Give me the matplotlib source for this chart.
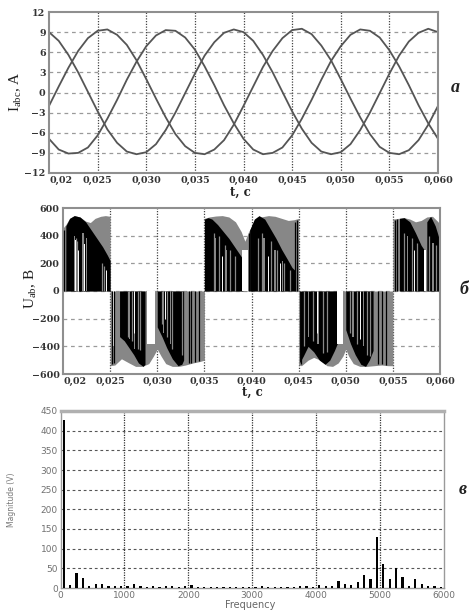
import numpy as np
import matplotlib
matplotlib.use("Agg")
from matplotlib import pyplot as plt
from matplotlib.ticker import FixedLocator, FixedFormatter

plt.rcParams['mathtext.fontset'] = 'custom'
plt.rcParams['mathtext.rm'] = 'Liberation Serif'
plt.rcParams['mathtext.it'] = 'Liberation Serif:italic'

# ---- a) phase currents, read every 1 ms from 0.020 to 0.060 s
cur_t = np.arange(20, 61) / 1000
cur_1 = [-2.0, 0.9, 3.7, 6.2, 8.1, 9.2, 9.4, 8.6, 7.1, 4.8, 2.0, -0.9, -3.7, -6.2, -8.0, -9.0, -9.2, -8.5, -7.1, -4.8,
         -2.0, 0.9, 3.8, 6.2, 8.1, 9.3, 9.5, 8.7, 7.0, 4.8, 2.0, -0.9, -3.7, -6.2, -8.1, -9.0, -9.2, -8.6, -7.1, -4.8, -2.0]
cur_2 = [-6.9, -8.5, -9.1, -9.0, -8.2, -6.4, -3.9, -1.1, 1.9, 4.6, 6.9, 8.5, 9.3, 9.2, 8.2, 6.4, 3.9, 1.1, -1.9, -4.6,
         -6.9, -8.5, -9.2, -9.0, -8.2, -6.4, -3.9, -1.1, 1.9, 4.7, 6.9, 8.6, 9.4, 9.2, 8.2, 6.3, 3.9, 1.1, -1.9, -4.6, -6.9]
cur_3 = [9.0, 7.7, 5.6, 3.0, 0.1, -2.8, -5.5, -7.5, -8.8, -9.2, -8.9, -7.7, -5.6, -3.0, -0.1, 2.8, 5.5, 7.5, 8.9, 9.4,
         9.0, 7.7, 5.6, 3.0, 0.1, -2.8, -5.4, -7.5, -8.8, -9.2, -8.9, -7.7, -5.6, -3.0, -0.1, 2.8, 5.5, 7.6, 8.9, 9.5, 9.0]
cur_ticks = [-12, -9, -6, -3, 0, 3, 6, 9, 12]

time_ticks = [0.020, 0.025, 0.030, 0.035, 0.040, 0.045, 0.050, 0.055, 0.060]
time_labels = ['0,02', '0,025', '0,030', '0,035', '0,040', '0,045', '0,050', '0,055', '0,060']

# ---- б) line voltage: envelope (gray), dense switching (black), stripes
volt_t = [0.0200, 0.0203, 0.0207, 0.0212, 0.0218, 0.0224, 0.0229, 0.0234, 0.0240, 0.0245, 0.0250, 0.0250,
          0.0250, 0.0255, 0.0262, 0.0270, 0.0277, 0.0284, 0.0291, 0.0296, 0.0300, 0.0304, 0.0309, 0.0316, 0.0323,
          0.0330, 0.0338, 0.0345, 0.0350, 0.0350,
          0.0350, 0.0355, 0.0362, 0.0369, 0.0376, 0.0383, 0.0389, 0.0393, 0.0397, 0.0403, 0.0410, 0.0418, 0.0425,
          0.0432, 0.0439, 0.0445, 0.0450, 0.0450,
          0.0450, 0.0453, 0.0460, 0.0466, 0.0473, 0.0480, 0.0486, 0.0492, 0.0497, 0.0500, 0.0503, 0.0508, 0.0515,
          0.0522, 0.0530, 0.0538, 0.0545, 0.0550, 0.0550,
          0.0550, 0.0556, 0.0562, 0.0568, 0.0574, 0.0580, 0.0586, 0.0592, 0.0598, 0.0600]
volt_env = [455, 480, 525, 545, 535, 505, 495, 525, 540, 545, 540, 0,
            -540, -535, -490, -520, -545, -545, -525, -470, -420, -470, -525, -545, -545,
            -535, -520, -510, -500, 0,
            525, 535, 542, 545, 535, 500, 430, 360, 430, 500, 535, 545, 540,
            525, 510, 515, 525, 0,
            -535, -540, -500, -480, -500, -540, -545, -520, -470, -420, -470, -525, -545,
            -545, -540, -535, -540, -540, 0,
            520, 525, 530, 520, 500, 510, 535, 540, 500, 470]

dense_t = [0.0203, 0.0203, 0.0207, 0.0212, 0.0218, 0.0224, 0.0230, 0.0236, 0.0242, 0.0247, 0.0250, 0.0250,
           0.0260, 0.0260, 0.0265, 0.0270, 0.0275, 0.0280, 0.0285, 0.0287, 0.0287,
           0.0300, 0.0300, 0.0305, 0.0310, 0.0316, 0.0322, 0.0326, 0.0328, 0.0328,
           0.0350, 0.0350, 0.0354, 0.0358, 0.0364, 0.0370, 0.0376, 0.0382, 0.0388, 0.0391, 0.0391,
           0.0398, 0.0398, 0.0403, 0.0408, 0.0414, 0.0420, 0.0426, 0.0432, 0.0438, 0.0443, 0.0446, 0.0446,
           0.0451, 0.0451, 0.0455, 0.0460, 0.0466, 0.0472, 0.0478, 0.0483, 0.0488, 0.0491, 0.0491,
           0.0500, 0.0500, 0.0505, 0.0510, 0.0516, 0.0521, 0.0525, 0.0529, 0.0529,
           0.0557, 0.0557, 0.0562, 0.0568, 0.0574, 0.0580, 0.0583, 0.0583,
           0.0586, 0.0586, 0.0590, 0.0595, 0.0599, 0.0599]
dense_v = [0, 470, 525, 545, 535, 500, 440, 380, 320, 260, 220, 0,
           0, -330, -360, -410, -460, -520, -545, -530, 0,
           0, -260, -330, -410, -490, -540, -530, -500, 0,
           0, 520, 530, 520, 480, 430, 380, 320, 260, 230, 0,
           0, 440, 520, 545, 520, 450, 380, 300, 230, 170, 150, 0,
           0, -520, -470, -400, -440, -500, -530, -500, -430, -380, 0,
           0, -280, -380, -460, -530, -545, -500, -430, 0,
           0, 525, 530, 500, 420, 330, 300, 0,
           0, 500, 540, 470, 380, 0]

# wider gray and white columns
gray_t0 = [0.02115, 0.02200, 0.02240, 0.02700, 0.02755, 0.03060, 0.03130, 0.03610, 0.03730,
           0.04125, 0.04240, 0.04320, 0.04600, 0.04700, 0.05070, 0.05180, 0.05650, 0.05920]
gray_t1 = [0.02132, 0.02228, 0.02252, 0.02712, 0.02765, 0.03072, 0.03145, 0.03625, 0.03745,
           0.04140, 0.04262, 0.04335, 0.04615, 0.04720, 0.05085, 0.05195, 0.05665, 0.05935]
gray_h = [400, 420, 380, -350, -420, -300, -380, 380, 300,
          380, 300, 220, -330, -380, -330, -400, 400, 350]

gap_t0 = [0.02132, 0.02228, 0.02535, 0.02890, 0.03895, 0.04462, 0.04525, 0.04905, 0.05830, 0.05965]
gap_t1 = [0.02138, 0.02233, 0.02545, 0.02975, 0.03965, 0.04470, 0.04533, 0.04975, 0.05850, 0.05972]
gap_h = [370, 340, -400, -380, 300, 400, -450, -380, 300, 380]

# thin switching lines
line_t = [0.02010, 0.02185, 0.02520, 0.02540, 0.03340, 0.03360, 0.03400, 0.03440, 0.03975,
          0.04465, 0.04480, 0.04520, 0.05340, 0.05380, 0.05430, 0.05520, 0.05540]
line_h = [440, 400, -530, -520, -520, -520, -510, -505, 420,
          500, 510, -530, -530, -530, -535, 515, 520]
gline_t = [0.02135, 0.02150, 0.02215, 0.02410, 0.02440,
           0.02690, 0.02730, 0.02800, 0.02815, 0.03050, 0.03100, 0.03160, 0.03260, 0.03310,
           0.03600, 0.03650, 0.03720, 0.03770, 0.03830, 0.04070, 0.04110, 0.04210, 0.04270, 0.04350, 0.04410,
           0.04560, 0.04650, 0.04760, 0.04800, 0.05040, 0.05120, 0.05230, 0.05260,
           0.05620, 0.05700, 0.05760, 0.05880, 0.05960]
gline_h = [380, 360, 400, 200, 180,
           -330, -360, -420, -430, -240, -330, -420, -460, -400,
           420, 400, 330, 300, 250, 380, 420, 360, 300, 200, 150,
           -400, -360, -450, -440, -300, -380, -460, -470,
           420, 380, 350, 400, 330]
wline_t = [0.02160, 0.02460, 0.02750, 0.03080, 0.03690, 0.04180, 0.04300, 0.04700, 0.05150, 0.05720]
wline_h = [300, 150, -300, -200, 250, 250, 200, -300, -350, 300]
volt_ticks = [-600, -400, -200, 0, 200, 400, 600]

# ---- в) spectrum, harmonics at 50 + 100k Hz
freq = np.arange(50, 6000, 100)
mag = [427, 8, 39, 25, 5, 11, 9, 5, 6, 5,
       4, 9, 4, 3, 4, 3, 4, 6, 3, 5,
       7, 3, 3, 2, 3, 2, 3, 2, 3, 3,
       2, 6, 3, 2, 3, 2, 2, 6, 6, 3,
       7, 4, 4, 19, 10, 8, 15, 34, 22, 130,
       60, 23, 52, 28, 6, 24, 10, 5, 5, 3]
freq_ticks = [0, 1000, 2000, 3000, 4000, 5000, 6000]
mag_ticks = [0, 50, 100, 150, 200, 250, 300, 350, 400, 450]

W, H = 469, 610
fig = plt.figure(figsize=(W / 100, H / 100), dpi=100)
fig.patch.set_facecolor('white')


def box(l, t, r, b):
    return [l / W, 1 - b / H, (r - l) / W, (b - t) / H]


serif_tick = dict(family='DejaVu Serif', weight='bold', size=6.8, color='#333333')


def style_time_axis(ax, yticks):
    ax.set_xlim(0.02, 0.06)
    ax.xaxis.set_major_locator(FixedLocator(time_ticks))
    ax.xaxis.set_major_formatter(FixedFormatter(time_labels))
    ax.yaxis.set_major_locator(FixedLocator(yticks))
    ax.set_ylim(yticks[0], yticks[-1])
    ax.tick_params(length=0, pad=2.5)
    for lab in ax.get_xticklabels() + ax.get_yticklabels():
        lab.set(**serif_tick)
    ax.get_xticklabels()[0].set_ha('left')
    for s in ax.spines.values():
        s.set_color('#8f8f8f')
        s.set_linewidth(1.5)
    for y in yticks[1:-1]:
        ax.axhline(y, color='#9a9a9a', lw=0.9, dashes=(3, 3), zorder=0.5)
    for x in time_ticks[1:-1]:
        ax.axvline(x, color='#444444', lw=0.9, dashes=(1, 1.2), zorder=0.5)


# a)
ax1 = fig.add_axes(box(49, 12, 438, 173))
for c in (cur_1, cur_2, cur_3):
    ax1.plot(cur_t, c, color='#555555', lw=1.3, zorder=2)
style_time_axis(ax1, cur_ticks)

# б)
ax2 = fig.add_axes(box(63, 208, 440, 374))
gray = '#878787'
ax2.fill_between(volt_t, 0, volt_env, color=gray, lw=0, zorder=1)
ax2.fill_between(dense_t, 0, dense_v, color='black', lw=0, zorder=2)
ax2.bar(gray_t0, gray_h, width=np.subtract(gray_t1, gray_t0), align='edge', color=gray, lw=0, zorder=3)
ax2.vlines(gline_t, 0, gline_h, color=gray, lw=0.9, zorder=3)
ax2.bar(gap_t0, gap_h, width=np.subtract(gap_t1, gap_t0), align='edge', color='white', lw=0, zorder=4)
ax2.vlines(wline_t, 0, wline_h, color='white', lw=0.7, zorder=4)
ax2.vlines(line_t, 0, line_h, color='black', lw=0.9, zorder=5)
style_time_axis(ax2, volt_ticks)

# в)
ax3 = fig.add_axes(box(60.5, 411, 444, 588))
ax3.bar(freq, mag, width=35, color='black', lw=0, zorder=3)
ax3.set_xlim(0, 6000)
ax3.set_ylim(0, 450)
ax3.set_xticks(freq_ticks)
ax3.set_yticks(mag_ticks)
ax3.tick_params(length=0, pad=2, labelsize=6.5, labelcolor='#707070')
for lab in ax3.get_xticklabels() + ax3.get_yticklabels():
    lab.set_family('DejaVu Sans')
for y in mag_ticks[1:]:
    ax3.axhline(y, color='#555555', lw=0.8, dashes=(2.5, 2.5), zorder=1)
for x in freq_ticks[1:-1]:
    ax3.axvline(x, color='#333333', lw=0.9, dashes=(1, 1), zorder=1)
for s in ax3.spines.values():
    s.set_color('#9a9a9a')
    s.set_linewidth(1.0)
ax3.spines['top'].set_linewidth(2.5)
ax3.spines['top'].set_color('#b0b0b0')

# labels
lab_serif = dict(family='Liberation Serif', size=11, color='#222222', rotation=90, ha='center', va='center')
fig.text(16 / W, 1 - 92 / H, r'$\mathrm{I_{abc}}$, A', **lab_serif)
fig.text(31 / W, 1 - 289 / H, r'$\mathrm{U_{ab}}$, B', **lab_serif)
xl = dict(family='DejaVu Serif', weight='bold', size=8.5, color='#222222', ha='center', va='center')
fig.text(240 / W, 1 - 192 / H, 't, c', **xl)
fig.text(252 / W, 1 - 392 / H, 't, c', **xl)
fig.text(250 / W, 1 - 604.5 / H, 'Frequency', family='DejaVu Sans', size=7, color='#666666',
         ha='center', va='center')
fig.text(12 / W, 1 - 500 / H, 'Magnitude (V)', family='DejaVu Sans', size=5.5, color='#777777',
         rotation=90, ha='center', va='center')

side = dict(family='Liberation Serif', style='italic', weight='bold', size=13, color='#222222',
            ha='center', va='center')
fig.text(455 / W, 1 - 88 / H, 'а', **side)
fig.text(464 / W, 1 - 289 / H, 'б', **side)
fig.text(463 / W, 1 - 489 / H, 'в', **side)

fig.savefig('out.png', dpi=100, facecolor='white')
